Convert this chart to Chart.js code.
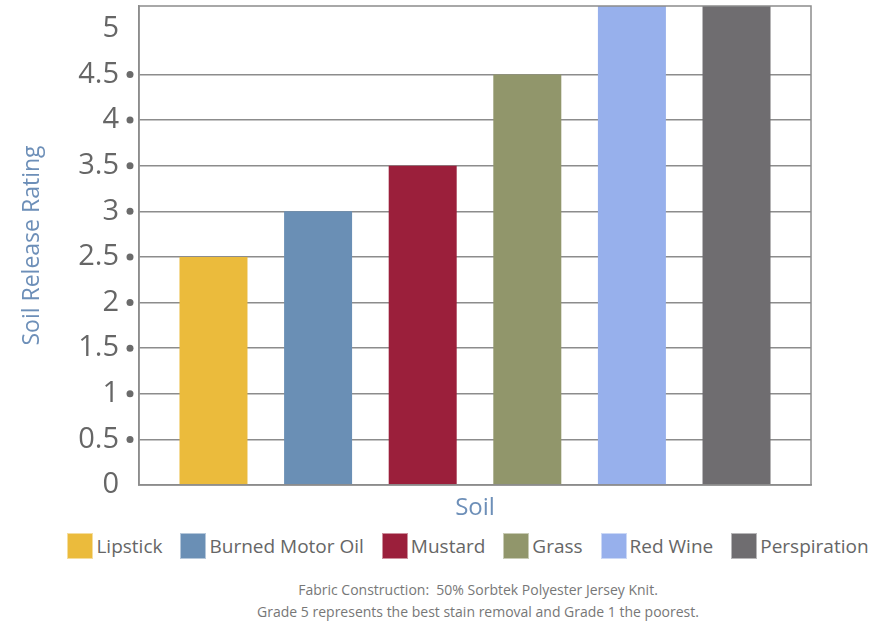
<!DOCTYPE html>
<html>
<head>
<meta charset="utf-8">
<script src="https://cdn.jsdelivr.net/npm/chart.js@4"></script>
<style>
    body { margin: 0; background: #fff; font-family: "Open Sans", sans-serif; }
    #wrap { position: relative; width: 892px; height: 626px; }
    #chart { position: absolute; left: 0; top: 0; }
    #legend { position: absolute; left: 0; top: 533px; width: 892px; display: flex; justify-content: center; gap: 18px; padding-left: 44px; box-sizing: border-box; }
    .item { display: flex; align-items: center; font-size: 19px; color: #666; height: 26px; }
    .box { width: 26px; height: 26px; margin-right: 3px; box-sizing: border-box; border: 1px solid rgba(255,255,255,0.5); }
    .note { position: absolute; left: 0; width: 892px; padding-left: 64px; box-sizing: border-box; text-align: center; font-size: 14px; color: #777; white-space: pre; }
</style>
</head>
<body>
<div id="wrap">
    <canvas id="chart" width="892" height="525"></canvas>
    <div id="legend"></div>
    <div class="note" style="top:580px">Fabric Construction:  50% Sorbtek Polyester Jersey Knit.</div>
    <div class="note" style="top:602px">Grade 5 represents the best stain removal and Grade 1 the poorest.</div>
</div>
<script>
// Soil release ratings
const soils = ['Lipstick', 'Burned Motor Oil', 'Mustard', 'Grass', 'Red Wine', 'Perspiration'];
const ratings = [2.5, 3, 3.5, 4.5, 5.25, 5.25];
const colors = ['#ebbb3c', '#6a8fb5', '#9b1f3b', '#91966b', '#97b0ec', '#6f6d70'];
const tickValues = [0, 0.5, 1, 1.5, 2, 2.5, 3, 3.5, 4, 4.5, 5];

const gridGrey = '#8c8c8c';

// small dots next to each inner tick, like the original
const tickDots = {
    id: 'tickDots',
    afterDraw(chart) {
        const y = chart.scales.y;
        const ctx = chart.ctx;
        ctx.save();
        ctx.fillStyle = '#6b6b6b';
        tickValues.forEach(v => {
            if (v <= 0 || v >= 5) return;
            ctx.beginPath();
            ctx.arc(chart.chartArea.left - 9, y.getPixelForValue(v), 3.5, 0, Math.PI * 2);
            ctx.fill();
        });
        ctx.restore();
    }
};

// frame round the plot area
const frame = {
    id: 'frame',
    afterDatasetsDraw(chart) {
        const a = chart.chartArea;
        const ctx = chart.ctx;
        ctx.save();
        ctx.strokeStyle = gridGrey;
        ctx.lineWidth = 1.5;
        ctx.strokeRect(a.left, a.top, a.right - a.left, a.bottom - a.top);
        ctx.restore();
    }
};

new Chart(document.getElementById('chart'), {
    type: 'bar',
    data: {
        labels: [''],
        datasets: soils.map((name, i) => ({
            label: name,
            data: [ratings[i]],
            backgroundColor: colors[i],
            borderWidth: 0,
            barPercentage: 0.65,
            categoryPercentage: 0.934
        }))
    },
    options: {
        responsive: false,
        animation: false,
        layout: { padding: { top: 6, right: 81, left: 0, bottom: 0 } },
        plugins: {
            legend: { display: false },
            tooltip: { enabled: false }
        },
        scales: {
            x: {
                grid: { display: false },
                border: { color: gridGrey, width: 1.5 },
                ticks: { display: false },
                title: {
                    display: true,
                    text: 'Soil',
                    color: '#6d8fb8',
                    font: { family: 'Open Sans', size: 24 },
                    padding: { top: 0, bottom: 2 }
                },
                afterFit(scale) { scale.height = 40; }
            },
            y: {
                min: 0,
                max: 5.25,
                afterBuildTicks(scale) {
                    scale.ticks = tickValues.map(v => ({ value: v }));
                },
                afterFit(scale) {
                    scale.width = 139;
                    scale.paddingTop = 0;
                    scale.paddingBottom = 0;
                },
                grid: {
                    drawTicks: false,
                    lineWidth: 1.5,
                    color: ctx => (ctx.tick && ctx.tick.value > 0 && ctx.tick.value < 5) ? gridGrey : 'rgba(0,0,0,0)'
                },
                border: { color: gridGrey, width: 1.5 },
                ticks: {
                    padding: 20,
                    color: '#666',
                    font: { family: 'Open Sans', size: 29 },
                    callback: v => String(v)
                },
                title: {
                    display: true,
                    text: 'Soil Release Rating',
                    color: '#6d8fb8',
                    font: { family: 'Open Sans', size: 23 },
                    padding: { top: 19, bottom: 0 }
                }
            }
        }
    },
    plugins: [tickDots, frame]
});

// legend built from the same arrays
const legend = document.getElementById('legend');
soils.forEach((name, i) => {
    const item = document.createElement('div');
    item.className = 'item';
    const box = document.createElement('span');
    box.className = 'box';
    box.style.background = colors[i];
    const label = document.createElement('span');
    label.textContent = name;
    item.appendChild(box);
    item.appendChild(label);
    legend.appendChild(item);
});
</script>
</body>
</html>
